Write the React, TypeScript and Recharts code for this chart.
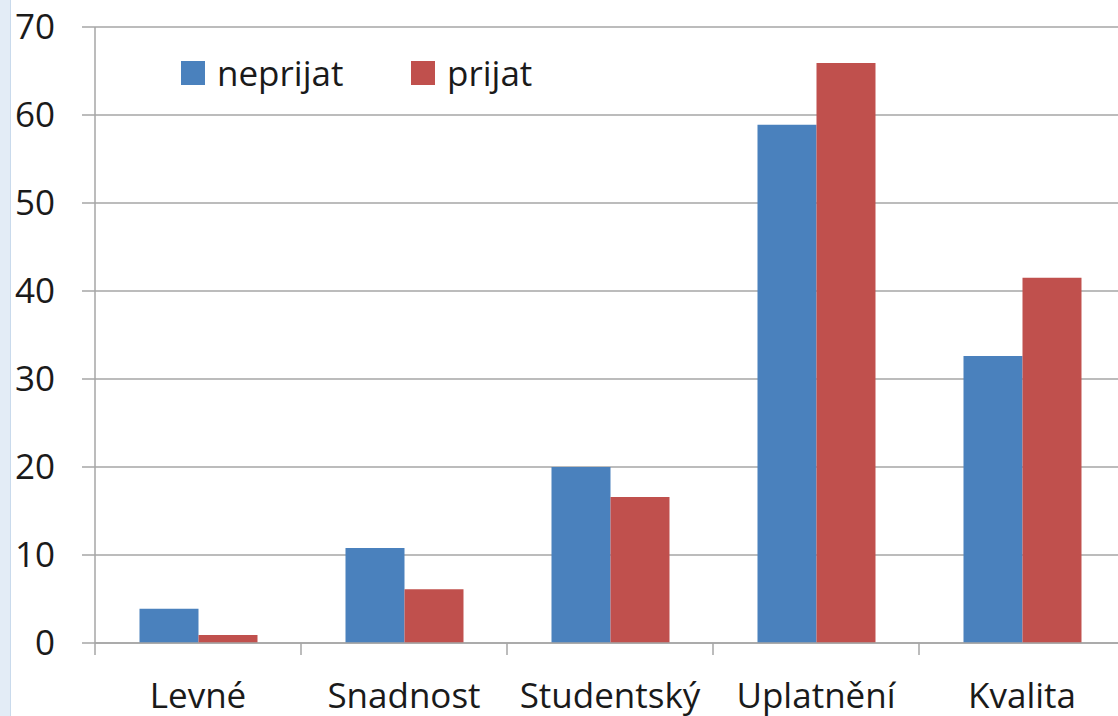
import * as React from "react";
import { Bar, BarChart, CartesianGrid, Legend, XAxis, YAxis } from "recharts";

const categories = ["Levné", "Snadnost", "Studentský", "Uplatnění", "Kvalita"];
const neprijat = [3.9, 10.8, 20, 58.9, 32.6];
const prijat = [0.9, 6.1, 16.6, 65.9, 41.5];
const yTicks = [0, 10, 20, 30, 40, 50, 60, 70];

const BLUE = "#4A81BD";
const RED = "#C0504D";
const GRID = "#A6A6A6";
const FONT = "'Open Sans', sans-serif";

const data = categories.map((name, i) => ({ name, neprijat: neprijat[i], prijat: prijat[i] }));

const X_TICK_SIZE = 12;
const X_TICK_MARGIN = 28;

function CategoryTick(props: any): React.JSX.Element {
  const { x, y, payload } = props;
  const half = payload.offset ?? 103;
  const axisY = y - X_TICK_SIZE - X_TICK_MARGIN;
  return (
    <g>
      <line x1={x - half} x2={x - half} y1={axisY} y2={axisY + X_TICK_SIZE} stroke={GRID} strokeWidth={1.5} />
      <text x={x} y={y} dy="0.71em" textAnchor="middle" fill="#1a1a1a" fontSize={35} fontFamily={FONT}>
        {payload.value}
      </text>
    </g>
  );
}

function LegendContent(): React.JSX.Element {
  const items = [
    { label: "neprijat", color: BLUE, width: 230 },
    { label: "prijat", color: RED, width: 150 },
  ];
  return (
    <div style={{ display: "flex", alignItems: "center", fontFamily: FONT, fontSize: 35, color: "#1a1a1a" }}>
      {items.map((it) => (
        <div key={it.label} style={{ display: "flex", alignItems: "center", width: it.width }}>
          <span style={{ display: "inline-block", width: 24, height: 24, background: it.color, marginRight: 12 }} />
          <span style={{ lineHeight: "40px" }}>{it.label}</span>
        </div>
      ))}
    </div>
  );
}

export default function App(): React.JSX.Element {
  return (
    <div style={{ position: "absolute", left: 0, top: 0, width: 1118, height: 716, overflow: "hidden", background: "#fff" }}>
      <div
        style={{
          position: "absolute",
          left: 0,
          top: 0,
          width: 10,
          height: 716,
          background: "#E3ECF6",
          borderRight: "1px solid #C9DAEC",
        }}
      />
      <BarChart
        width={1130}
        height={716}
        data={data}
        margin={{ top: 27, right: 5, left: 0, bottom: 0 }}
        barCategoryGap="21.6%"
        barGap={0}
      >
        <CartesianGrid vertical={false} stroke={GRID} strokeWidth={1.5} />
        <XAxis
          dataKey="name"
          height={73}
          tickSize={X_TICK_SIZE}
          tickMargin={X_TICK_MARGIN}
          tickLine={false}
          axisLine={{ stroke: GRID, strokeWidth: 1.5 }}
          tick={<CategoryTick />}
          interval={0}
        />
        <YAxis
          width={95}
          domain={[0, 70]}
          ticks={yTicks}
          interval={0}
          tickSize={13}
          tickMargin={27}
          axisLine={{ stroke: GRID, strokeWidth: 1.5 }}
          tickLine={{ stroke: GRID, strokeWidth: 1.5 }}
          tick={{ fontSize: 35, fontFamily: FONT, fill: "#1a1a1a" }}
        />
        <Legend
          content={<LegendContent />}
          wrapperStyle={{ left: 181, top: 53, width: "auto", height: 0, overflow: "visible" }}
        />
        <Bar dataKey="neprijat" fill={BLUE} isAnimationActive={false} />
        <Bar dataKey="prijat" fill={RED} isAnimationActive={false} />
      </BarChart>
    </div>
  );
}
